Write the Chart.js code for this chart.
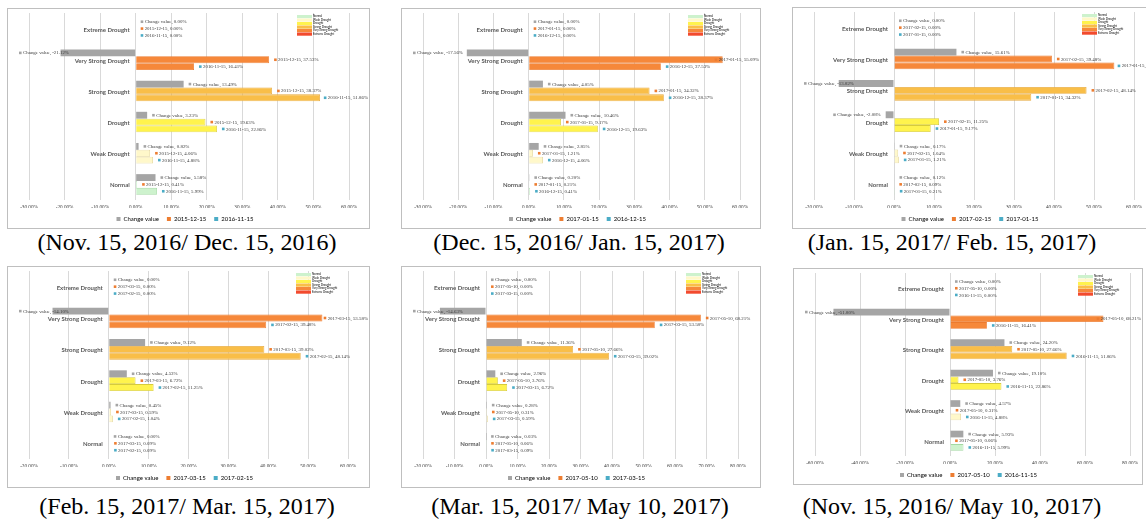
<!DOCTYPE html>
<html>
<head>
<meta charset="utf-8">
<script src="https://cdn.jsdelivr.net/npm/chart.js@4"></script>
<style>
  body { margin: 0; width: 1146px; height: 523px; overflow: hidden; background: #fff; position: relative; }
  .panel { position: absolute; outline: 1px solid #BFBFBF; outline-offset: -1px; background: #fff; overflow: hidden; }
  .panel canvas { position: absolute; left: 0; top: 0; }
  .caption { position: absolute; width: 420px; text-align: center; font-family: "Liberation Serif", "Times New Roman", serif;
             font-size: 24px; line-height: 24px; color: #000; white-space: nowrap; }
</style>
</head>
<body>
<script>
/* ============================================================
   Drought class shares — six comparison panels
   ============================================================ */

// ── Data ────────────────────────────────────────────────────

const CATEGORIES = ["Extreme Drought", "Very Strong Drought", "Strong Drought", "Drought", "Weak Drought", "Normal"];
const KEY_LABELS = ["Normal", "Weak Drought", "Drought", "Strong Drought", "Very Strong Drought", "Extreme Drought"];

const P1_CAPTION = "(Nov. 15, 2016/ Dec. 15, 2016)";
const P1_SERIES  = ["Change value", "2015-12-15", "2016-11-15"];
const P1_CHANGE  = [0, -21.12, 13.49, 3.23, 0.82, 5.58];
const P1_LATER   = [0, 37.53, 38.37, 19.63, 4.06, 0.41];
const P1_EARLIER = [0, 16.41, 51.86, 22.86, 4.88, 5.99];
const P1_TICKS   = [-30, -20, -10, 0, 10, 20, 30, 40, 50, 60];

const P2_CAPTION = "(Dec. 15, 2016/ Jan. 15, 2017)";
const P2_SERIES  = ["Change value", "2017-01-15", "2016-12-15"];
const P2_CHANGE  = [0, -17.56, 4.05, 10.46, 2.85, 0.20];
const P2_LATER   = [0, 55.09, 34.32, 9.17, 1.21, 0.21];
const P2_EARLIER = [0, 37.53, 38.37, 19.63, 4.06, 0.41];
const P2_TICKS   = [-30, -20, -10, 0, 10, 20, 30, 40, 50, 60];

const P3_CAPTION = "(Jan. 15, 2017/ Feb. 15, 2017)";
const P3_SERIES  = ["Change value", "2017-02-15", "2017-01-15"];
const P3_CHANGE  = [0, 15.61, -13.82, -2.08, 0.17, 0.12];
const P3_LATER   = [0, 39.48, 48.14, 11.25, 1.04, 0.09];
const P3_EARLIER = [0, 55.09, 34.32, 9.17, 1.21, 0.21];
const P3_TICKS   = [-20, -10, 0, 10, 20, 30, 40, 50, 60];

const P4_CAPTION = "(Feb. 15, 2017/ Mar. 15, 2017)";
const P4_SERIES  = ["Change value", "2017-03-15", "2017-02-15"];
const P4_CHANGE  = [0, -14.10, 9.12, 4.53, 0.45, 0.00];
const P4_LATER   = [0, 53.58, 39.02, 6.72, 0.59, 0.09];
const P4_EARLIER = [0, 39.48, 48.14, 11.25, 1.04, 0.09];
const P4_TICKS   = [-20, -10, 0, 10, 20, 30, 40, 50, 60];

const P5_CAPTION = "(Mar. 15, 2017/ May 10, 2017)";
const P5_SERIES  = ["Change value", "2017-05-10", "2017-03-15"];
const P5_CHANGE  = [0, -14.63, 11.36, 2.96, 0.28, 0.03];
const P5_LATER   = [0, 68.21, 27.66, 3.76, 0.31, 0.06];
const P5_EARLIER = [0, 53.58, 39.02, 6.72, 0.59, 0.09];
const P5_TICKS   = [-20, -10, 0, 10, 20, 30, 40, 50, 60, 70, 80];

const P6_CAPTION = "(Nov. 15, 2016/ May 10, 2017)";
const P6_SERIES  = ["Change value", "2017-05-10", "2016-11-15"];
const P6_CHANGE  = [0, -51.80, 24.20, 19.10, 4.57, 5.93];
const P6_LATER   = [0, 68.21, 27.66, 3.76, 0.31, 0.06];
const P6_EARLIER = [0, 16.41, 51.86, 22.86, 4.88, 5.99];
const P6_TICKS   = [-60, -40, -20, 0, 20, 40, 60, 80];

// ── Styles & layout ─────────────────────────────────────────

const SERIES_COLORS = ["#A5A5A5", "#ED7D31", "#4BACC6"];
// per category, same order as CATEGORIES
const CAT_FILL   = ["#F24A2E", "#F6883A", "#F9BE48", "#FFF34D", "#FFF8CA", "#CDF2CD"];
const CAT_BORDER = ["#D93A22", "#EC7A2E", "#E6A83C", "#D6CB3C", "#E3D597", "#A3D9A3"];
const KEY_FILL   = ["#CDF2CD", "#FFF8CA", "#FFF34D", "#F9BE48", "#F6883A", "#F24A2E"];

// frame: left, top, width, height, right padding inside the chart
const FRAMES = [
  [7, 8, 363, 221, 21],
  [401, 8, 360, 221, 21],
  [792, 7, 372, 222, 30],
  [7, 266, 363, 222, 22],
  [401, 266, 360, 222, 23],
  [793, 268, 350, 217, 13],
];
const CAPTION_CENTERS = [[187, 242], [579, 242], [952, 242], [187, 506], [580, 506], [952, 506]];

const PANELS = [
  { caption: P1_CAPTION, series: P1_SERIES, values: [P1_CHANGE, P1_LATER, P1_EARLIER], ticks: P1_TICKS },
  { caption: P2_CAPTION, series: P2_SERIES, values: [P2_CHANGE, P2_LATER, P2_EARLIER], ticks: P2_TICKS },
  { caption: P3_CAPTION, series: P3_SERIES, values: [P3_CHANGE, P3_LATER, P3_EARLIER], ticks: P3_TICKS },
  { caption: P4_CAPTION, series: P4_SERIES, values: [P4_CHANGE, P4_LATER, P4_EARLIER], ticks: P4_TICKS },
  { caption: P5_CAPTION, series: P5_SERIES, values: [P5_CHANGE, P5_LATER, P5_EARLIER], ticks: P5_TICKS },
  { caption: P6_CAPTION, series: P6_SERIES, values: [P6_CHANGE, P6_LATER, P6_EARLIER], ticks: P6_TICKS },
];

// ── Plugins ─────────────────────────────────────────────────

// "■ Series, 12.34%" next to each bar end
const barLabels = {
  id: "barLabels",
  afterDatasetsDraw(chart) {
    const { ctx, chartArea } = chart;
    ctx.save();
    ctx.font = "4.9px 'Liberation Serif'";
    ctx.textBaseline = "middle";
    chart.data.datasets.forEach((ds, di) => {
      chart.getDatasetMeta(di).data.forEach((bar, i) => {
        const v = ds.data[i];
        const text = `${ds.label}, ${v.toFixed(2)}%`;
        const w = 4 + ctx.measureText(text).width;
        let x = v < 0 ? Math.max(bar.x - 5 - w, chartArea.left - 10) : bar.x + 5;
        x = Math.min(x, chart.width - w - 2);
        ctx.fillStyle = SERIES_COLORS[di];
        ctx.fillRect(x, bar.y - 1.3, 2.6, 2.6);
        ctx.fillStyle = "#3A3A3A";
        ctx.fillText(text, x + 4, bar.y + 0.3);
      });
    });
    ctx.restore();
  },
};

// category names sit just left of the zero line
const categoryLabels = {
  id: "categoryLabels",
  afterDatasetsDraw(chart) {
    const { ctx, scales: { x, y } } = chart;
    const x0 = x.getPixelForValue(0);
    ctx.save();
    ctx.font = "bold 6px Lato";
    ctx.fillStyle = "#595959";
    ctx.textAlign = "right";
    ctx.textBaseline = "middle";
    CATEGORIES.forEach((c, i) => ctx.fillText(c, x0 - 6, y.getPixelForValue(i) + 1));
    ctx.restore();
  },
};

// little colour key in the top-right corner
const colorKey = {
  id: "colorKey",
  afterDraw(chart) {
    const { ctx, chartArea } = chart;
    const left = chartArea.right - 52;
    const top = chartArea.top + 2;
    ctx.save();
    ctx.font = "2.8px Lato";
    ctx.textBaseline = "middle";
    KEY_LABELS.forEach((lab, i) => {
      ctx.fillStyle = KEY_FILL[i];
      ctx.fillRect(left, top + i * 3.5, 15, 3.2);
      ctx.fillStyle = "#000";
      ctx.fillText(lab, left + 16, top + i * 3.5 + 1.6);
    });
    ctx.restore();
  },
};

// ── Build ───────────────────────────────────────────────────

function makePanel(p, idx) {
  const [left, top, w, h, padRight] = FRAMES[idx];
  const div = document.createElement("div");
  div.className = "panel";
  Object.assign(div.style, { left: left + "px", top: top + "px", width: w + "px", height: h + "px" });
  const canvas = document.createElement("canvas");
  canvas.width = w;
  canvas.height = h;
  div.appendChild(canvas);
  document.body.appendChild(div);

  const [cx, cy] = CAPTION_CENTERS[idx];
  const cap = document.createElement("div");
  cap.className = "caption";
  cap.textContent = p.caption;
  cap.style.left = (cx - 210) + "px";
  cap.style.top = (cy - 12) + "px";
  document.body.appendChild(cap);

  const datasets = p.series.map((name, si) => ({
    label: name,
    data: p.values[si],
    backgroundColor: si === 0 ? SERIES_COLORS[0] : CAT_FILL,
    borderColor: si === 0 ? SERIES_COLORS[0] : CAT_BORDER,
    borderWidth: si === 0 ? 0 : 0.8,
    categoryPercentage: 0.66,
    barPercentage: 1.0,
  }));

  new Chart(canvas, {
    type: "bar",
    data: { labels: CATEGORIES, datasets },
    plugins: [barLabels, categoryLabels, colorKey],
    options: {
      indexAxis: "y",
      responsive: false,
      animation: false,
      devicePixelRatio: 1,
      layout: { padding: { left: 14, right: padRight, top: 5, bottom: -3 } },
      plugins: {
        tooltip: { enabled: false },
        legend: {
          display: true,
          position: "bottom",
          labels: {
            font: { family: "Lato", size: 6 },
            color: "#595959",
            boxWidth: 4,
            boxHeight: 4,
            padding: 8,
            generateLabels: chart => chart.data.datasets.map((ds, i) => ({
              text: ds.label,
              fillStyle: SERIES_COLORS[i],
              strokeStyle: SERIES_COLORS[i],
              lineWidth: 0,
              hidden: false,
              datasetIndex: i,
            })),
          },
        },
      },
      scales: {
        x: {
          min: p.ticks[0],
          max: p.ticks[p.ticks.length - 1],
          afterBuildTicks: s => { s.ticks = p.ticks.map(v => ({ value: v })); },
          afterFit: s => { s.height = 8; },
          grid: { color: "#D9D9D9", lineWidth: 1, drawTicks: false },
          border: { display: false },
          ticks: {
            font: { family: "Liberation Serif", size: 5.2 },
            color: "#404040",
            padding: 5,
            callback: v => v.toFixed(2) + "%",
          },
        },
        y: {
          grid: { display: false },
          border: { display: false },
          ticks: { display: false },
        },
      },
    },
  });
}

PANELS.forEach(makePanel);
</script>
</body>
</html>
